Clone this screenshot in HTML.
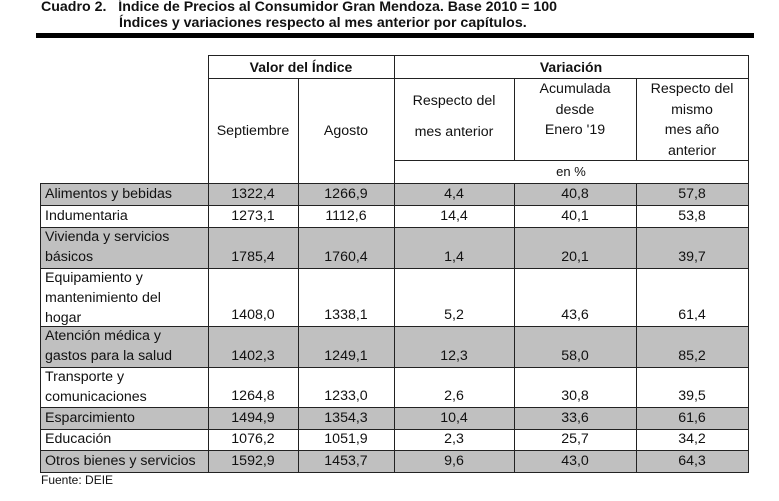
<!DOCTYPE html>
<html><head><meta charset="utf-8">
<style>
body{margin:0;width:779px;height:501px;background:#fff;position:relative;overflow:hidden;font-family:"Liberation Sans",sans-serif;color:#111}
.a{position:absolute;box-sizing:border-box}
.t{font-family:"Liberation Sans",sans-serif;font-weight:bold;font-size:14.2px;white-space:nowrap}
.c{font-size:14.2px;line-height:20.5px;white-space:nowrap}
.h{position:absolute;background:#222;height:1px}
.v{position:absolute;background:#222;width:1px}
</style></head><body>
<div class="a t" style="left:41px;top:-1px">Cuadro 2.&nbsp;&nbsp;&nbsp;Índice de Precios al Consumidor Gran Mendoza. Base 2010 = 100</div>
<div class="a t" style="left:119px;top:15px">Índices y variaciones respecto al mes anterior por capítulos.</div>
<div class="a" style="left:36px;top:33px;width:718px;height:5px;background:#000"></div>
<div id="tbl"></div>
<div class="a" style="left:41px;top:473px;font-size:12px">Fuente: DEIE</div>
<script>
const names=[["Alimentos y bebidas"],["Indumentaria"],["Vivienda y servicios","básicos"],["Equipamiento y","mantenimiento del","hogar"],["Atención médica y","gastos para la salud"],["Transporte y","comunicaciones"],["Esparcimiento"],["Educación"],["Otros bienes y servicios"]];
const septiembre=["1322,4","1273,1","1785,4","1408,0","1402,3","1264,8","1494,9","1076,2","1592,9"];
const agosto=["1266,9","1112,6","1760,4","1338,1","1249,1","1233,0","1354,3","1051,9","1453,7"];
const mesAnterior=["4,4","14,4","1,4","5,2","12,3","2,6","10,4","2,3","9,6"];
const acumulada=["40,8","40,1","20,1","43,6","58,0","30,8","33,6","25,7","43,0"];
const mismoMes=["57,8","53,8","39,7","61,4","85,2","39,5","61,6","34,2","64,3"];
const rowTops=[183,205,227,268,326,367,407,429,450,472];
const X=[40,208,298,394,514,636,748];
const root=document.getElementById('tbl');
function box(css,html,name){const d=document.createElement('div');d.className='a c';d.style.cssText=css;d.innerHTML=html||'';


root.appendChild(d);return d;}
function hl(x1,x2,y){const d=document.createElement('div');d.className='h';d.style.cssText=`left:${x1}px;width:${x2-x1+1}px;top:${y}px`;


root.appendChild(d);}
function vl(x,y1,y2){const d=document.createElement('div');d.className='v';d.style.cssText=`left:${x}px;top:${y1}px;height:${y2-y1}px`;


root.appendChild(d);}
const cols=[septiembre,agosto,mesAnterior,acumulada,mismoMes];
for(let i=0;i<names.length;i++){
  const y1=rowTops[i],y2=rowTops[i+1],h=y2-y1;
  if(i%2==0) box(`left:${X[0]}px;top:${y1}px;width:${X[6]-X[0]}px;height:${h}px;background:#c0c0c0`,'','row-shade');
  const lt = names[i].length==1 ? y2-21 : y1;
  box(`left:${X[0]+5}px;top:${lt}px;line-height:20px`,names[i].join('<br>'),'row-label');
  for(let j=0;j<5;j++){
    box(`left:${X[j+1]}px;width:${X[j+2]-X[j+1]}px;top:${y2-21}px;text-align:center`,cols[j][i],'value-cell');
  }
  hl(X[0],X[6],y1);
}
hl(X[0],X[6],472);
box(`left:${X[1]}px;width:${X[3]-X[1]}px;top:57px;text-align:center;font-weight:bold;font-size:14px`,'Valor del Índice','header-valor');
box(`left:${X[3]}px;width:${X[6]-X[3]}px;top:57px;text-align:center;font-weight:bold;font-size:14px`,'Variación','header-variacion');
box(`left:${X[1]}px;width:${X[2]-X[1]}px;top:121px;text-align:center`,'Septiembre','header-septiembre');
box(`left:${X[2]}px;width:${X[3]-X[2]}px;top:121px;text-align:center`,'Agosto','header-agosto');
box(`left:${X[3]}px;width:${X[4]-X[3]}px;top:86px;text-align:center;line-height:31px`,'Respecto del<br>mes anterior','header-mes-anterior');
box(`left:${X[4]}px;width:${X[5]-X[4]}px;top:79px;text-align:center`,'Acumulada<br>desde<br>Enero \'19','header-acumulada');
box(`left:${X[5]}px;width:${X[6]-X[5]}px;top:79px;text-align:center`,'Respecto del<br>mismo<br>mes año<br>anterior','header-mismo-mes');
box(`left:${X[3]}px;width:${X[6]-X[3]}px;top:163px;text-align:center;font-size:13px;line-height:18px`,'en %','header-en-porcentaje');
hl(X[1],X[6],55);hl(X[1],X[6],78);hl(X[3],X[6],160);
vl(X[1],55,472);vl(X[2],78,472);vl(X[3],55,472);vl(X[4],78,160);vl(X[5],78,160);vl(X[6],55,472);
vl(X[0],183,472);vl(X[4],183,472);vl(X[5],183,472);
</script>
</body></html>
